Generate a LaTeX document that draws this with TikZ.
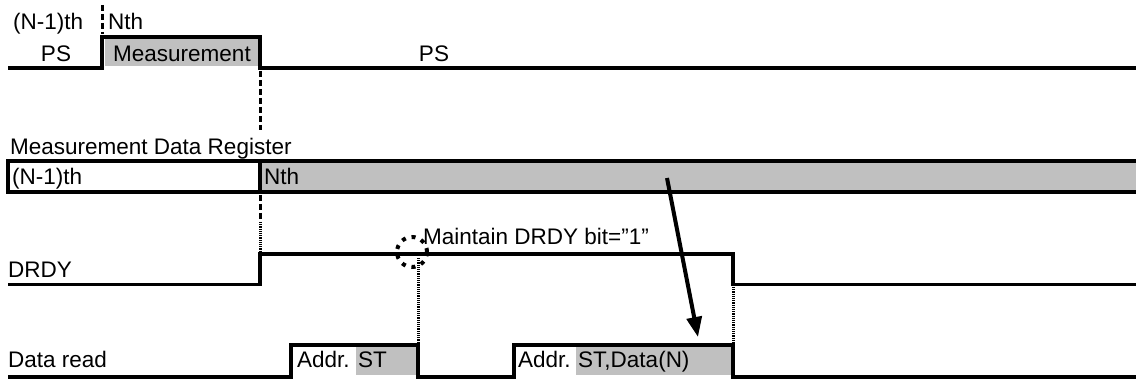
\documentclass[tikz,border=0pt]{standalone}
\usepackage{fontspec}
\setmainfont{Liberation Sans}
\usetikzlibrary{arrows.meta}
\definecolor{busgray}{RGB}{192,192,192}
\begin{document}
\begin{tikzpicture}[x=1pt,y=-1pt,
  sig/.style={line width=3.8pt, line join=miter},
  lbl/.style={anchor=base west, inner sep=0pt, font=\fontsize{22.5}{27}\selectfont},
  clbl/.style={anchor=base, inner sep=0pt, font=\fontsize{22.5}{27}\selectfont},
  dashv/.style={line width=3pt, dash pattern=on 6pt off 3pt},
  dotv/.style={line width=3pt, dash pattern=on 1.2pt off 1pt},
  ring/.style={line width=4pt, dash pattern=on 4pt off 6pt},
  bigarrow/.style={line width=4pt, -{Triangle[length=20pt,width=15pt]}}]
\useasboundingbox (0,0) rectangle (1136,379);
% top waveform
\fill[busgray] (105,39) rectangle (258,66);
\draw[sig] (8,68) -- (102,68) -- (102,37) -- (260,37) -- (260,68) -- (1136,68);
\draw[dashv] (102,5) -- (102,34);
\draw[dashv] (260,71) -- (260,130);
\node[lbl] (nm1top) at (13,30) {(N-1)th};
\node[lbl] (ntop) at (108,30) {Nth};
\node[clbl] (ps1) at (56,62) {PS};
\node[clbl] (meas) at (182,62) {Measurement};
\node[clbl] (ps2) at (434,62) {PS};
% register
\node[lbl] (mdr) at (10,155) {Measurement Data Register};
\fill[busgray] (260,161) rectangle (1136,192);
\draw[sig] (1136,161) -- (8,161) -- (8,192) -- (1136,192);
\draw[sig] (260,161) -- (260,192);
\node[lbl] (nm1reg) at (12,185) {(N-1)th};
\node[lbl] (nreg) at (264,185) {Nth};
\draw[dashv] (260,195) -- (260,222);
\draw[dotv] (260,222) -- (260,252);
% DRDY
\node[lbl] (drdy) at (8,278) {DRDY};
\draw[sig] (8,284.5) -- (260,284.5) -- (260,254) -- (733,254) -- (733,284.5) -- (1136,284.5);
\draw[ring] (412,252) circle[radius=15pt];
\node[lbl] (maint) at (423,245) {Maintain DRDY bit="1"};
\draw[dotv] (418,258) -- (418,343);
\draw[dotv] (733,287) -- (733,343);
% data read
\fill[busgray] (356,347) rectangle (416,375);
\fill[busgray] (576,347) rectangle (731,375);
\draw[sig] (8,377) -- (291,377) -- (291,345) -- (418,345) -- (418,377) -- (514,377) -- (514,345) -- (733,345) -- (733,377) -- (1136,377);
\node[lbl] (dread) at (8,368) {Data read};
\node[lbl] (addr1) at (297,368) {Addr.};
\node[lbl] (st1) at (358,368) {ST};
\node[lbl] (addr2) at (518,368) {Addr.};
\node[lbl] (st2) at (578,368) {ST,Data(N)};
% arrow
\coordinate (arrS) at (667,178);
\coordinate (arrE) at (698,337);
\draw[bigarrow] (arrS) -- (arrE);
\end{tikzpicture}
\end{document}
